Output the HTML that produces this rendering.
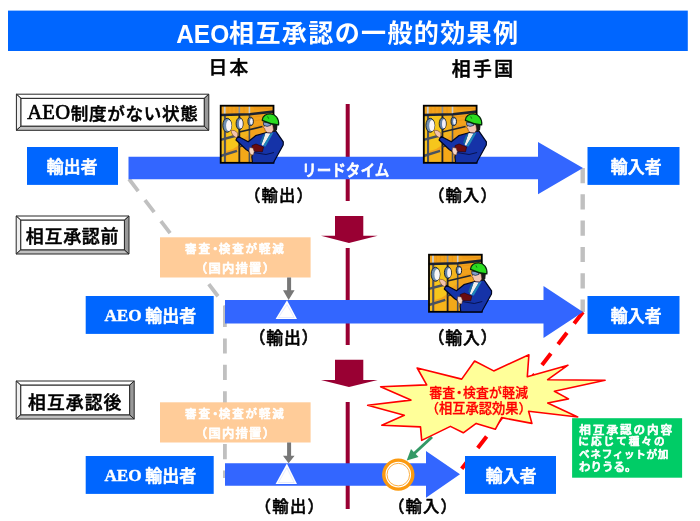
<!DOCTYPE html>
<html lang="ja">
<head>
<meta charset="utf-8">
<title>AEO相互承認の一般的効果例</title>
<style>
html,body{margin:0;padding:0;background:#fff;}
body{width:700px;height:521px;overflow:hidden;}
svg{display:block;will-change:transform;}
text{font-family:"Liberation Sans","Noto Sans CJK JP",sans-serif;font-weight:700;}
.serif{font-family:"Liberation Serif","Noto Serif CJK JP",serif;font-weight:700;}
.reg{font-weight:400;}
.m{font-weight:500;}
</style>
</head>
<body>
<svg width="700" height="521" viewBox="0 0 700 521">
<rect x="0" y="0" width="700" height="521" fill="#fff"/>

<!-- title bar -->
<rect x="8" y="10.6" width="679.8" height="40.4" fill="#0066ff"/>
<text fill="#fff"><tspan x="176.17" y="42.54" font-size="25.63" letter-spacing="0.00" textLength="53.04" lengthAdjust="spacingAndGlyphs">AEO</tspan><tspan x="229.10" y="42.39" font-size="25.05" letter-spacing="1.34">相互承認の一般的効果例</tspan></text>
<!-- column headers -->
<text class="m" transform="translate(208.57 74.36)" font-size="18.72" letter-spacing="2.27" fill="#000" stroke="#000" stroke-width="0.5" stroke-linejoin="round">日本</text>
<text class="m" transform="translate(451.69 75.56)" font-size="18.83" letter-spacing="2.44" fill="#000" stroke="#000" stroke-width="0.5" stroke-linejoin="round">相手国</text>
<!-- centre line -->
<g fill="#990033">
<rect x="345.7" y="104" width="4" height="97"/>
<rect x="345.7" y="248" width="4" height="97"/>
<rect x="345.7" y="402" width="4" height="107"/>
<polygon points="335,216.1 363.3,216.1 363.3,235.7 377.7,235.7 349,243 321,235.7 335,235.7"/>
<polygon points="335,359.8 363.3,359.8 363.3,380 377.7,380 349,386.9 321,380 335,380"/>
</g>

<!-- grey dashed guides -->
<g fill="none" stroke="#c0c0c0" stroke-width="3.8" stroke-dasharray="15.2 11.2">
<line x1="129" y1="179" x2="225" y2="305.5"/>
<line x1="224.9" y1="305.6" x2="224.9" y2="327" stroke-dasharray="none"/>
<line x1="224.9" y1="338.4" x2="224.9" y2="478"/>
</g>
<line x1="582.7" y1="168" x2="582.7" y2="312" fill="none" stroke="#c0c0c0" stroke-width="4.4" stroke-dasharray="15.2 11.1"/>
<!-- red dashed -->
<line x1="583" y1="312" x2="460" y2="471" stroke="#ff0000" stroke-width="4" stroke-dasharray="14.5 11.75" fill="none"/>

<!-- row 1 -->
<polygon points="128.5,156.8 538,156.8 538,142 583,168 538,194.3 538,179.3 128.5,179.3" fill="#3366ff"/>
<rect x="27" y="147" width="91" height="37.9" fill="#0066ff"/>
<rect x="587.5" y="147" width="92" height="37.9" fill="#0066ff"/>
<text class="m" transform="translate(46.68 173.14)" font-size="16.81" letter-spacing="0.22" fill="#fff" stroke="#fff" stroke-width="0.7" stroke-linejoin="round">輸出者</text>
<text class="m" transform="translate(610.68 173.14)" font-size="16.81" letter-spacing="0.22" fill="#fff" stroke="#fff" stroke-width="0.7" stroke-linejoin="round">輸入者</text>
<text class="m" transform="translate(302.04 176.43) scale(0.8978 1)" font-size="16.25" fill="#fff" stroke="#fff" stroke-width="0.7" stroke-linejoin="round">リードタイム</text>
<text class="m" transform="translate(244.16 200.62)" font-size="16.32" letter-spacing="1.12" fill="#000" stroke="#000" stroke-width="0.5" stroke-linejoin="round">（輸出）</text>
<text class="m" transform="translate(428.16 200.62)" font-size="16.32" letter-spacing="1.12" fill="#000" stroke="#000" stroke-width="0.5" stroke-linejoin="round">（輸入）</text>
<!-- row 2 -->
<polygon points="225,300.1 543.5,300.1 543.5,286 583,312 543.5,338 543.5,323.6 225,323.6" fill="#3366ff"/>
<rect x="85.7" y="296" width="128" height="37.9" fill="#0066ff"/>
<rect x="587.5" y="296" width="92" height="37.9" fill="#0066ff"/>
<text fill="#fff"><tspan class="serif" x="104.43" y="321.05" font-size="17.35" letter-spacing="0.00" textLength="37.18" lengthAdjust="spacingAndGlyphs" stroke="#fff" stroke-width="0.4" stroke-linejoin="round">AEO</tspan><tspan font-size="16.91"> </tspan><tspan class="m" x="145.27" y="321.53" font-size="16.91" letter-spacing="0.05" stroke="#fff" stroke-width="0.7" stroke-linejoin="round">輸出者</tspan></text>
<text class="m" transform="translate(610.68 322.14)" font-size="16.81" letter-spacing="0.22" fill="#fff" stroke="#fff" stroke-width="0.7" stroke-linejoin="round">輸入者</text>
<text class="m" transform="translate(248.80 344.07)" font-size="16.84" letter-spacing="0.71" fill="#000" stroke="#000" stroke-width="0.5" stroke-linejoin="round">（輸出）</text>
<text class="m" transform="translate(427.80 344.07)" font-size="16.84" letter-spacing="0.71" fill="#000" stroke="#000" stroke-width="0.5" stroke-linejoin="round">（輸入）</text>
<!-- row 3 -->
<polygon points="225,463.3 426,463.3 426,451 460,474.3 426,497.8 426,485.7 225,485.7" fill="#3366ff"/>
<rect x="85.7" y="456" width="128" height="37.9" fill="#0066ff"/>
<rect x="465" y="456" width="91" height="37.9" fill="#0066ff"/>
<text fill="#fff"><tspan class="serif" x="104.43" y="481.05" font-size="17.35" letter-spacing="0.00" textLength="37.18" lengthAdjust="spacingAndGlyphs" stroke="#fff" stroke-width="0.4" stroke-linejoin="round">AEO</tspan><tspan font-size="16.91"> </tspan><tspan class="m" x="145.27" y="481.53" font-size="16.91" letter-spacing="0.05" stroke="#fff" stroke-width="0.7" stroke-linejoin="round">輸出者</tspan></text>
<text class="m" transform="translate(485.68 482.14)" font-size="16.81" letter-spacing="0.22" fill="#fff" stroke="#fff" stroke-width="0.7" stroke-linejoin="round">輸入者</text>
<text class="m" transform="translate(254.66 511.62)" font-size="16.32" letter-spacing="1.34" fill="#000" stroke="#000" stroke-width="0.5" stroke-linejoin="round">（輸出）</text>
<text class="m" transform="translate(388.16 511.62)" font-size="16.32" letter-spacing="1.12" fill="#000" stroke="#000" stroke-width="0.5" stroke-linejoin="round">（輸入）</text>
<!-- workers -->
<g transform="translate(220 105)">
<rect x="0.2" y="0.2" width="53.4" height="57.8" fill="#f2a21c"/>
<polygon points="6.5,10.5 19,10 19,40 13,44 6.5,46" fill="#f6c61c"/>
<polygon points="20.5,9 29,8.6 29,30 20.5,35" fill="#f3b31c"/>
<polygon points="6.5,48 19,44 19,57.5 6.5,57.5" fill="#f7b41a"/>
<polygon points="1,10 4,10 4,57 1,57" fill="#f6c020"/>
<polygon points="21,38 29,42 29,57.5 21,57.5" fill="#f4a818"/>
<g stroke="#e58a12" stroke-width="0.5" fill="none">
<path d="M33,2 L53,4 M33,12 L53,10 M34,16 L44,14 M33,22 L42,20 M8,2 V8 M12,2 V8 M16,2 V8 M24,2 V8 M34,4 H52"/>
</g>
<g fill="none" stroke-linecap="butt">
<path d="M4.7,0.5 V9" stroke="#c8ccd0" stroke-width="1.8"/>
<path d="M19.3,0.5 V9" stroke="#8a9098" stroke-width="1.6"/>
<path d="M29.4,0.5 V9" stroke="#c8ccd0" stroke-width="1.6"/>
<path d="M4.9,9 V57.5" stroke="#4a5260" stroke-width="2"/>
<path d="M19.3,9 V57.5" stroke="#1e2228" stroke-width="1.8"/>
<path d="M29.4,9 V57.5" stroke="#4a505a" stroke-width="1.6"/>
<path d="M0.5,10 L30,9.2 L53.5,6.6" stroke="#1c2230" stroke-width="2.6"/>
<path d="M19.3,27 L42.5,21.5" stroke="#22262c" stroke-width="1.7"/>
<path d="M0.5,34.8 L15,31" stroke="#4a5260" stroke-width="2.4"/>
<path d="M0.5,51 L17,45.8" stroke="#4a5260" stroke-width="2.4"/>
<path d="M19,42 L29,38.5" stroke="#3a3a40" stroke-width="1.4"/>
</g>
<ellipse cx="7.2" cy="20.3" rx="4.4" ry="7" fill="#6f8fb0" stroke="#141a24" stroke-width="0.9"/>
<ellipse cx="8.8" cy="20.6" rx="2.7" ry="5.5" fill="#fbf7f8"/>
<ellipse cx="19.6" cy="18.6" rx="3.5" ry="5.9" fill="#5f7fa6" stroke="#141a24" stroke-width="0.9"/>
<ellipse cx="20.8" cy="18.8" rx="1.9" ry="4.5" fill="#f3eef6"/>
<ellipse cx="30.6" cy="16.4" rx="2.7" ry="4.2" fill="#5f7fa6" stroke="#141a24" stroke-width="0.9"/>
<ellipse cx="31.4" cy="16.5" rx="1.4" ry="3" fill="#eef0fa"/>
<rect x="0.7" y="0.7" width="52.8" height="57.1" fill="none" stroke="#000" stroke-width="1.8"/>
<path d="M50,26.5 L55.5,25.6 L63.3,36.8 L63.2,40 L53.4,57.8 L32.5,57.8 L31.8,52 L32.5,48.5 L26.4,44.8 L16,35 L17.8,31.3 L28.2,36.8 L35.6,30.7 L44.8,28 Z" fill="#1533a8" stroke="#01061f" stroke-width="1.2" stroke-linejoin="round"/>
<path d="M45.5,28 L50.5,28.6 L46.5,35.5 L43,41 L41.5,39.5 Z" fill="#f2f0ea"/>
<path d="M50.5,28.6 L53.5,27.6 L45.5,41.5 L43,41 Z" fill="#1f86b8"/>
<path d="M45.5,28 L42.5,31 L40,37.5 L41.5,39.5 Z" fill="#166a9c"/>
<path d="M32,40.5 L36,39 L43.5,42 L42.4,46.8 L35,46.6 L32,44 Z" fill="#6a0c10" stroke="#2a0004" stroke-width="0.6"/>
<path d="M33.5,47.5 L46,49.5 L54,47.5" fill="none" stroke="#020a3a" stroke-width="0.8"/>
<path d="M29.5,42.5 L33,43 L34.2,46.5 L33.4,50 L30.6,49.6 L29,46 Z" fill="#f6d6c4" stroke="#5a2a1a" stroke-width="0.5"/>
<path d="M11,25.2 L14.5,25.6 L17.8,28 L17.6,31.6 L16.2,32.6 L13.5,31 L11.6,28 Z" fill="#f3c4ac" stroke="#5a2a1a" stroke-width="0.5"/>
<path d="M51.5,18.5 L57.5,19.8 L57,24.5 L55,27 L52,26.5 Z" fill="#1a1a1a"/>
<path d="M44.2,18 L52.5,18.5 L53.5,25 L51.5,27.8 L47.5,27.6 L45.2,25.8 L44.8,23.5 L43.4,22.6 L44.6,21 Z" fill="#f2c6b4" stroke="#5a2a1a" stroke-width="0.5"/>
<path d="M43.4,17.2 L50,17.8 L50.6,20.4 L47,21.4 L43.6,20.2 Z" fill="#7f9ccc" stroke="#12203a" stroke-width="0.7"/>
<path d="M50.5,18.8 L53.5,19.4" stroke="#12203a" stroke-width="1" fill="none"/>
<path d="M42.2,15.4 C42.4,10.8 46.5,8.7 50.5,8.9 C55.5,9.2 59.2,13.3 58.6,19.9 C54,19.4 47,17.8 42.2,15.4 Z" fill="#2bdc20" stroke="#04240a" stroke-width="1.2" stroke-linejoin="round"/>
<path d="M47.6,11.4 L48.6,13.6" stroke="#0a6a10" stroke-width="0.9" fill="none"/>
</g>
<g transform="translate(423.1 105)">
<rect x="0.2" y="0.2" width="53.4" height="57.8" fill="#f2a21c"/>
<polygon points="6.5,10.5 19,10 19,40 13,44 6.5,46" fill="#f6c61c"/>
<polygon points="20.5,9 29,8.6 29,30 20.5,35" fill="#f3b31c"/>
<polygon points="6.5,48 19,44 19,57.5 6.5,57.5" fill="#f7b41a"/>
<polygon points="1,10 4,10 4,57 1,57" fill="#f6c020"/>
<polygon points="21,38 29,42 29,57.5 21,57.5" fill="#f4a818"/>
<g stroke="#e58a12" stroke-width="0.5" fill="none">
<path d="M33,2 L53,4 M33,12 L53,10 M34,16 L44,14 M33,22 L42,20 M8,2 V8 M12,2 V8 M16,2 V8 M24,2 V8 M34,4 H52"/>
</g>
<g fill="none" stroke-linecap="butt">
<path d="M4.7,0.5 V9" stroke="#c8ccd0" stroke-width="1.8"/>
<path d="M19.3,0.5 V9" stroke="#8a9098" stroke-width="1.6"/>
<path d="M29.4,0.5 V9" stroke="#c8ccd0" stroke-width="1.6"/>
<path d="M4.9,9 V57.5" stroke="#4a5260" stroke-width="2"/>
<path d="M19.3,9 V57.5" stroke="#1e2228" stroke-width="1.8"/>
<path d="M29.4,9 V57.5" stroke="#4a505a" stroke-width="1.6"/>
<path d="M0.5,10 L30,9.2 L53.5,6.6" stroke="#1c2230" stroke-width="2.6"/>
<path d="M19.3,27 L42.5,21.5" stroke="#22262c" stroke-width="1.7"/>
<path d="M0.5,34.8 L15,31" stroke="#4a5260" stroke-width="2.4"/>
<path d="M0.5,51 L17,45.8" stroke="#4a5260" stroke-width="2.4"/>
<path d="M19,42 L29,38.5" stroke="#3a3a40" stroke-width="1.4"/>
</g>
<ellipse cx="7.2" cy="20.3" rx="4.4" ry="7" fill="#6f8fb0" stroke="#141a24" stroke-width="0.9"/>
<ellipse cx="8.8" cy="20.6" rx="2.7" ry="5.5" fill="#fbf7f8"/>
<ellipse cx="19.6" cy="18.6" rx="3.5" ry="5.9" fill="#5f7fa6" stroke="#141a24" stroke-width="0.9"/>
<ellipse cx="20.8" cy="18.8" rx="1.9" ry="4.5" fill="#f3eef6"/>
<ellipse cx="30.6" cy="16.4" rx="2.7" ry="4.2" fill="#5f7fa6" stroke="#141a24" stroke-width="0.9"/>
<ellipse cx="31.4" cy="16.5" rx="1.4" ry="3" fill="#eef0fa"/>
<rect x="0.7" y="0.7" width="52.8" height="57.1" fill="none" stroke="#000" stroke-width="1.8"/>
<path d="M50,26.5 L55.5,25.6 L63.3,36.8 L63.2,40 L53.4,57.8 L32.5,57.8 L31.8,52 L32.5,48.5 L26.4,44.8 L16,35 L17.8,31.3 L28.2,36.8 L35.6,30.7 L44.8,28 Z" fill="#1533a8" stroke="#01061f" stroke-width="1.2" stroke-linejoin="round"/>
<path d="M45.5,28 L50.5,28.6 L46.5,35.5 L43,41 L41.5,39.5 Z" fill="#f2f0ea"/>
<path d="M50.5,28.6 L53.5,27.6 L45.5,41.5 L43,41 Z" fill="#1f86b8"/>
<path d="M45.5,28 L42.5,31 L40,37.5 L41.5,39.5 Z" fill="#166a9c"/>
<path d="M32,40.5 L36,39 L43.5,42 L42.4,46.8 L35,46.6 L32,44 Z" fill="#6a0c10" stroke="#2a0004" stroke-width="0.6"/>
<path d="M33.5,47.5 L46,49.5 L54,47.5" fill="none" stroke="#020a3a" stroke-width="0.8"/>
<path d="M29.5,42.5 L33,43 L34.2,46.5 L33.4,50 L30.6,49.6 L29,46 Z" fill="#f6d6c4" stroke="#5a2a1a" stroke-width="0.5"/>
<path d="M11,25.2 L14.5,25.6 L17.8,28 L17.6,31.6 L16.2,32.6 L13.5,31 L11.6,28 Z" fill="#f3c4ac" stroke="#5a2a1a" stroke-width="0.5"/>
<path d="M51.5,18.5 L57.5,19.8 L57,24.5 L55,27 L52,26.5 Z" fill="#1a1a1a"/>
<path d="M44.2,18 L52.5,18.5 L53.5,25 L51.5,27.8 L47.5,27.6 L45.2,25.8 L44.8,23.5 L43.4,22.6 L44.6,21 Z" fill="#f2c6b4" stroke="#5a2a1a" stroke-width="0.5"/>
<path d="M43.4,17.2 L50,17.8 L50.6,20.4 L47,21.4 L43.6,20.2 Z" fill="#7f9ccc" stroke="#12203a" stroke-width="0.7"/>
<path d="M50.5,18.8 L53.5,19.4" stroke="#12203a" stroke-width="1" fill="none"/>
<path d="M42.2,15.4 C42.4,10.8 46.5,8.7 50.5,8.9 C55.5,9.2 59.2,13.3 58.6,19.9 C54,19.4 47,17.8 42.2,15.4 Z" fill="#2bdc20" stroke="#04240a" stroke-width="1.2" stroke-linejoin="round"/>
<path d="M47.6,11.4 L48.6,13.6" stroke="#0a6a10" stroke-width="0.9" fill="none"/>
</g>
<g transform="translate(428.3 254)">
<rect x="0.2" y="0.2" width="53.4" height="57.8" fill="#f2a21c"/>
<polygon points="6.5,10.5 19,10 19,40 13,44 6.5,46" fill="#f6c61c"/>
<polygon points="20.5,9 29,8.6 29,30 20.5,35" fill="#f3b31c"/>
<polygon points="6.5,48 19,44 19,57.5 6.5,57.5" fill="#f7b41a"/>
<polygon points="1,10 4,10 4,57 1,57" fill="#f6c020"/>
<polygon points="21,38 29,42 29,57.5 21,57.5" fill="#f4a818"/>
<g stroke="#e58a12" stroke-width="0.5" fill="none">
<path d="M33,2 L53,4 M33,12 L53,10 M34,16 L44,14 M33,22 L42,20 M8,2 V8 M12,2 V8 M16,2 V8 M24,2 V8 M34,4 H52"/>
</g>
<g fill="none" stroke-linecap="butt">
<path d="M4.7,0.5 V9" stroke="#c8ccd0" stroke-width="1.8"/>
<path d="M19.3,0.5 V9" stroke="#8a9098" stroke-width="1.6"/>
<path d="M29.4,0.5 V9" stroke="#c8ccd0" stroke-width="1.6"/>
<path d="M4.9,9 V57.5" stroke="#4a5260" stroke-width="2"/>
<path d="M19.3,9 V57.5" stroke="#1e2228" stroke-width="1.8"/>
<path d="M29.4,9 V57.5" stroke="#4a505a" stroke-width="1.6"/>
<path d="M0.5,10 L30,9.2 L53.5,6.6" stroke="#1c2230" stroke-width="2.6"/>
<path d="M19.3,27 L42.5,21.5" stroke="#22262c" stroke-width="1.7"/>
<path d="M0.5,34.8 L15,31" stroke="#4a5260" stroke-width="2.4"/>
<path d="M0.5,51 L17,45.8" stroke="#4a5260" stroke-width="2.4"/>
<path d="M19,42 L29,38.5" stroke="#3a3a40" stroke-width="1.4"/>
</g>
<ellipse cx="7.2" cy="20.3" rx="4.4" ry="7" fill="#6f8fb0" stroke="#141a24" stroke-width="0.9"/>
<ellipse cx="8.8" cy="20.6" rx="2.7" ry="5.5" fill="#fbf7f8"/>
<ellipse cx="19.6" cy="18.6" rx="3.5" ry="5.9" fill="#5f7fa6" stroke="#141a24" stroke-width="0.9"/>
<ellipse cx="20.8" cy="18.8" rx="1.9" ry="4.5" fill="#f3eef6"/>
<ellipse cx="30.6" cy="16.4" rx="2.7" ry="4.2" fill="#5f7fa6" stroke="#141a24" stroke-width="0.9"/>
<ellipse cx="31.4" cy="16.5" rx="1.4" ry="3" fill="#eef0fa"/>
<rect x="0.7" y="0.7" width="52.8" height="57.1" fill="none" stroke="#000" stroke-width="1.8"/>
<path d="M50,26.5 L55.5,25.6 L63.3,36.8 L63.2,40 L53.4,57.8 L32.5,57.8 L31.8,52 L32.5,48.5 L26.4,44.8 L16,35 L17.8,31.3 L28.2,36.8 L35.6,30.7 L44.8,28 Z" fill="#1533a8" stroke="#01061f" stroke-width="1.2" stroke-linejoin="round"/>
<path d="M45.5,28 L50.5,28.6 L46.5,35.5 L43,41 L41.5,39.5 Z" fill="#f2f0ea"/>
<path d="M50.5,28.6 L53.5,27.6 L45.5,41.5 L43,41 Z" fill="#1f86b8"/>
<path d="M45.5,28 L42.5,31 L40,37.5 L41.5,39.5 Z" fill="#166a9c"/>
<path d="M32,40.5 L36,39 L43.5,42 L42.4,46.8 L35,46.6 L32,44 Z" fill="#6a0c10" stroke="#2a0004" stroke-width="0.6"/>
<path d="M33.5,47.5 L46,49.5 L54,47.5" fill="none" stroke="#020a3a" stroke-width="0.8"/>
<path d="M29.5,42.5 L33,43 L34.2,46.5 L33.4,50 L30.6,49.6 L29,46 Z" fill="#f6d6c4" stroke="#5a2a1a" stroke-width="0.5"/>
<path d="M11,25.2 L14.5,25.6 L17.8,28 L17.6,31.6 L16.2,32.6 L13.5,31 L11.6,28 Z" fill="#f3c4ac" stroke="#5a2a1a" stroke-width="0.5"/>
<path d="M51.5,18.5 L57.5,19.8 L57,24.5 L55,27 L52,26.5 Z" fill="#1a1a1a"/>
<path d="M44.2,18 L52.5,18.5 L53.5,25 L51.5,27.8 L47.5,27.6 L45.2,25.8 L44.8,23.5 L43.4,22.6 L44.6,21 Z" fill="#f2c6b4" stroke="#5a2a1a" stroke-width="0.5"/>
<path d="M43.4,17.2 L50,17.8 L50.6,20.4 L47,21.4 L43.6,20.2 Z" fill="#7f9ccc" stroke="#12203a" stroke-width="0.7"/>
<path d="M50.5,18.8 L53.5,19.4" stroke="#12203a" stroke-width="1" fill="none"/>
<path d="M42.2,15.4 C42.4,10.8 46.5,8.7 50.5,8.9 C55.5,9.2 59.2,13.3 58.6,19.9 C54,19.4 47,17.8 42.2,15.4 Z" fill="#2bdc20" stroke="#04240a" stroke-width="1.2" stroke-linejoin="round"/>
<path d="M47.6,11.4 L48.6,13.6" stroke="#0a6a10" stroke-width="0.9" fill="none"/>
</g>
<!-- peach boxes -->
<rect x="160" y="237.3" width="150.6" height="40.2" fill="#ffcc99"/>
<rect x="160" y="402.3" width="150.6" height="40.2" fill="#ffcc99"/>
<text class="m" transform="translate(185.01 252.62)" font-size="11.47" letter-spacing="1.94" fill="#fff" stroke="#fff" stroke-width="0.7" stroke-linejoin="round">審査<tspan dx="-0.2em" letter-spacing="-0.2em">・</tspan>検査が軽減</text>
<text class="m" transform="translate(194.98 272.82)" font-size="12.32" letter-spacing="1.22" fill="#fff" stroke="#fff" stroke-width="0.7" stroke-linejoin="round">（国内措置）</text>
<text class="m" transform="translate(185.01 417.62)" font-size="11.47" letter-spacing="1.94" fill="#fff" stroke="#fff" stroke-width="0.7" stroke-linejoin="round">審査<tspan dx="-0.2em" letter-spacing="-0.2em">・</tspan>検査が軽減</text>
<text class="m" transform="translate(194.98 437.82)" font-size="12.32" letter-spacing="1.22" fill="#fff" stroke="#fff" stroke-width="0.7" stroke-linejoin="round">（国内措置）</text>
<!-- small grey arrows + triangles -->
<g fill="#777777">
<polygon points="287.1,277.5 291.1,277.5 291.1,290.2 294.6,290.2 288.6,300 283,290.2 287.1,290.2"/>
<polygon points="287.1,442.5 291.1,442.5 291.1,455.7 294.6,455.7 288.6,463.3 283,455.7 287.1,455.7"/>
</g>
<polygon points="287,300.3 297,319 275.6,319" fill="#fff"/>
<polygon points="287,304.6 294.2,317.5 278.4,317.5" fill="none" stroke="#c9d5ff" stroke-width="0.5"/>
<polygon points="286.9,463.4 297,484 275.6,484" fill="#fff"/>
<polygon points="286.9,467.8 294.2,482.5 278.4,482.5" fill="none" stroke="#c9d5ff" stroke-width="0.5"/>

<!-- label boxes -->
<g stroke="#262626" stroke-width="1" stroke-linejoin="miter">
<polygon points="16.4,94.2 208.8,94.2 204.20000000000002,98.4 21.0,98.4" fill="#ffffff"/>
<polygon points="16.4,94.2 21.0,98.4 21.0,126.10000000000001 16.4,130.3" fill="#f0f0f0"/>
<polygon points="16.4,130.3 21.0,126.10000000000001 204.20000000000002,126.10000000000001 208.8,130.3" fill="#c0c0c0"/>
<polygon points="208.8,94.2 208.8,130.3 204.20000000000002,126.10000000000001 204.20000000000002,98.4" fill="#999999"/>
<rect x="21.0" y="98.4" width="183.20" height="27.70" fill="#ffffff"/>
</g>
<text fill="#000"><tspan class="serif reg" x="27.14" y="119.44" font-size="20.59" letter-spacing="0.32" stroke="#000" stroke-width="0.7" stroke-linejoin="round">AEO</tspan><tspan class="m" x="70.72" y="119.67" font-size="17.58" letter-spacing="0.68" stroke="#000" stroke-width="0.5" stroke-linejoin="round">制度がない状態</tspan></text>
<g stroke="#262626" stroke-width="1" stroke-linejoin="miter">
<polygon points="16.2,216 129,216 124.4,220.2 20.799999999999997,220.2" fill="#ffffff"/>
<polygon points="16.2,216 20.799999999999997,220.2 20.799999999999997,249.8 16.2,254" fill="#f0f0f0"/>
<polygon points="16.2,254 20.799999999999997,249.8 124.4,249.8 129,254" fill="#c0c0c0"/>
<polygon points="129,216 129,254 124.4,249.8 124.4,220.2" fill="#999999"/>
<rect x="20.799999999999997" y="220.2" width="103.60" height="29.60" fill="#ffffff"/>
</g>
<text class="m" transform="translate(25.71 243.13)" font-size="17.98" letter-spacing="0.74" fill="#000" stroke="#000" stroke-width="0.5" stroke-linejoin="round">相互承認前</text>
<g stroke="#262626" stroke-width="1" stroke-linejoin="miter">
<polygon points="16.2,381 134.2,381 129.6,385.2 20.799999999999997,385.2" fill="#ffffff"/>
<polygon points="16.2,381 20.799999999999997,385.2 20.799999999999997,414.8 16.2,419" fill="#f0f0f0"/>
<polygon points="16.2,419 20.799999999999997,414.8 129.6,414.8 134.2,419" fill="#c0c0c0"/>
<polygon points="134.2,381 134.2,419 129.6,414.8 129.6,385.2" fill="#999999"/>
<rect x="20.799999999999997" y="385.2" width="108.80" height="29.60" fill="#ffffff"/>
</g>
<text class="m" transform="translate(28.12 408.75)" font-size="17.77" letter-spacing="1.07" fill="#000" stroke="#000" stroke-width="0.5" stroke-linejoin="round">相互承認後</text>
<!-- green arrow -->
<line x1="432" y1="437" x2="412" y2="455.5" stroke="#339966" stroke-width="3"/>
<polygon points="406.7,460.5 411,449 418.5,457" fill="#339966"/>

<!-- starburst -->
<polygon fill="#ffff99" stroke="#ff0000" stroke-width="1.6" stroke-linejoin="round" points="493.7,370.9 528.9,354.8 527.3,376.7 568.0,365.2 547.7,379.7 605.1,380.2 554.4,391.3 568.5,398.9 547.7,403.0 577.7,417.0 528.6,411.2 531.9,423.4 501.6,417.6 495.3,429.3 476.2,423.4 463.3,432.8 450.4,426.4 421.7,440.4 420.5,426.9 381.8,425.2 404.3,415.3 367.7,405.3 410.9,400.1 380.6,386.7 426.7,384.9 417.2,368.0 461.7,379.1 474.6,361.0"/>
<text class="m" transform="translate(429.16 396.89)" font-size="12.84" letter-spacing="0.23" fill="#f00" stroke="#f00" stroke-width="0.3" stroke-linejoin="round">審査<tspan dx="-0.2em" letter-spacing="-0.2em">・</tspan>検査が軽減</text>
<text class="m" transform="translate(425.73 412.52)" font-size="13.26" fill="#f00" stroke="#f00" stroke-width="0.3" stroke-linejoin="round">（相互承認効果）</text>
<!-- orange circle -->
<circle cx="398.3" cy="474.6" r="15.5" fill="#fff"/>
<circle cx="398.3" cy="474.6" r="14.5" fill="none" stroke="#fb9a10" stroke-width="3.4"/>
<circle cx="398.3" cy="474.6" r="11.3" fill="none" stroke="#fb9a10" stroke-width="0.8"/>

<!-- green note -->
<rect x="572.1" y="418.2" width="110" height="59.5" fill="#00cc66"/>
<text class="m" transform="translate(579.30 433.81)" font-size="11.60" letter-spacing="1.95" fill="#fff" stroke="#fff" stroke-width="0.7" stroke-linejoin="round">相互承認の内容</text>
<text class="m" transform="translate(578.37 445.49)" font-size="10.64" letter-spacing="1.97" fill="#fff" stroke="#fff" stroke-width="0.7" stroke-linejoin="round">に応じて種々の</text>
<text class="m" transform="translate(579.12 458.10) scale(0.9897 1)" font-size="10.64" letter-spacing="0.74" fill="#fff" stroke="#fff" stroke-width="0.7" stroke-linejoin="round">ベネフィットが加</text>
<text class="m" transform="translate(579.08 470.65)" font-size="11.49" fill="#fff" stroke="#fff" stroke-width="0.7" stroke-linejoin="round">わりうる。</text>
</svg>
</body>
</html>
